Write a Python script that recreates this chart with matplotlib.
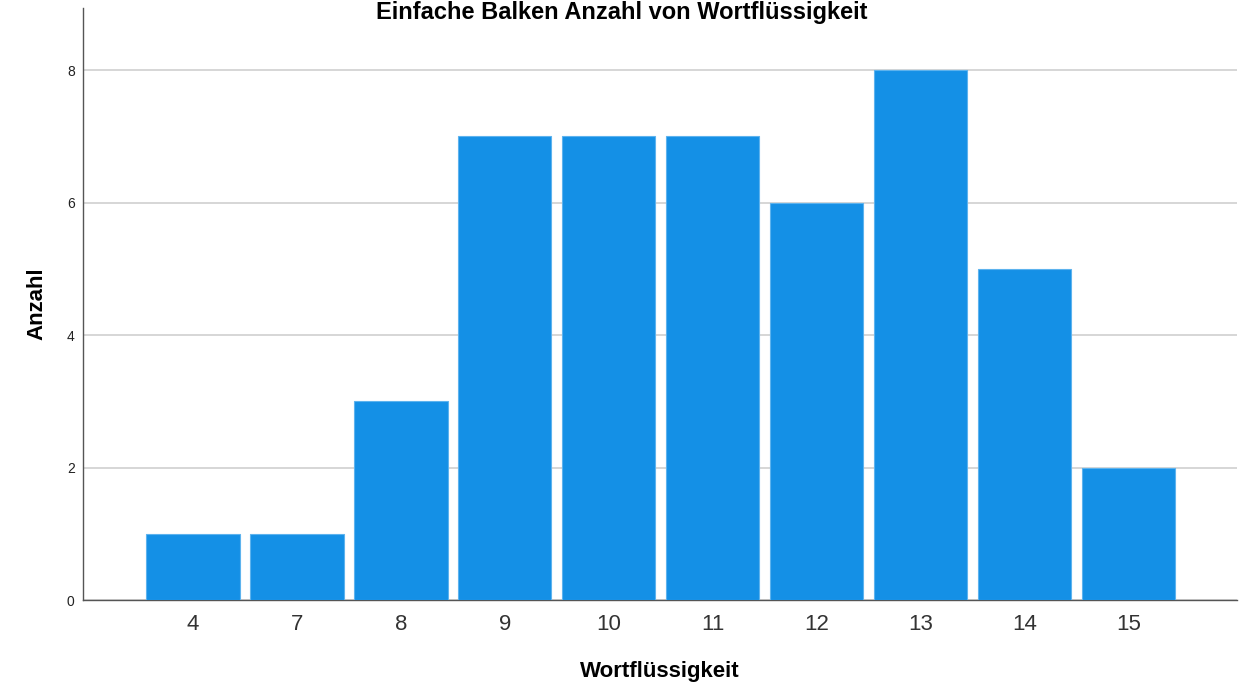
import numpy as np
import matplotlib.pyplot as plt

plt.rcParams["font.family"] = ["Liberation Sans", "DejaVu Sans"]

categories = ["4", "7", "8", "9", "10", "11", "12", "13", "14", "15"]
counts = [1, 1, 3, 7, 7, 7, 6, 8, 5, 2]
y_ticks = [0, 2, 4, 6, 8]

bar_color = "#1490E6"

fig = plt.figure(figsize=(12.43, 6.87), dpi=100)
ax = fig.add_axes([83 / 1243, 1 - 600 / 687, (1237 - 83) / 1243, (600 - 8) / 687])

x = np.arange(len(categories))
ax.bar(x, counts, width=0.895, color=bar_color, edgecolor="#5DB3EE", linewidth=0.8, zorder=3)

ax.set_xlim(-1.058, 10.04)
ax.set_ylim(0, 8.94)
ax.set_xticks(x)
ax.set_xticklabels(categories, fontsize=16, color="#333333")
ax.set_yticks(y_ticks)
ax.set_yticklabels([str(v) for v in y_ticks], fontsize=10, color="#222222")
ax.tick_params(axis="both", length=0)
ax.tick_params(axis="x", pad=10)
ax.tick_params(axis="y", pad=6)

ax.yaxis.grid(True, color="#CFCFCF", linewidth=1.2, zorder=0)
ax.set_axisbelow(True)
for side in ["top", "right"]:
    ax.spines[side].set_visible(False)
for side in ["left", "bottom"]:
    ax.spines[side].set_color("#555555")
    ax.spines[side].set_linewidth(1.0)

ax.set_xlabel("Wortflüssigkeit", fontsize=16, fontweight="bold", labelpad=19)
ax.set_ylabel("Anzahl", fontsize=16, fontweight="bold", labelpad=14)

fig.text(0.5, 0.999, "Einfache Balken Anzahl von Wortflüssigkeit",
         ha="center", va="top", fontsize=17, fontweight="bold")

fig.savefig("out.png", dpi=100)
